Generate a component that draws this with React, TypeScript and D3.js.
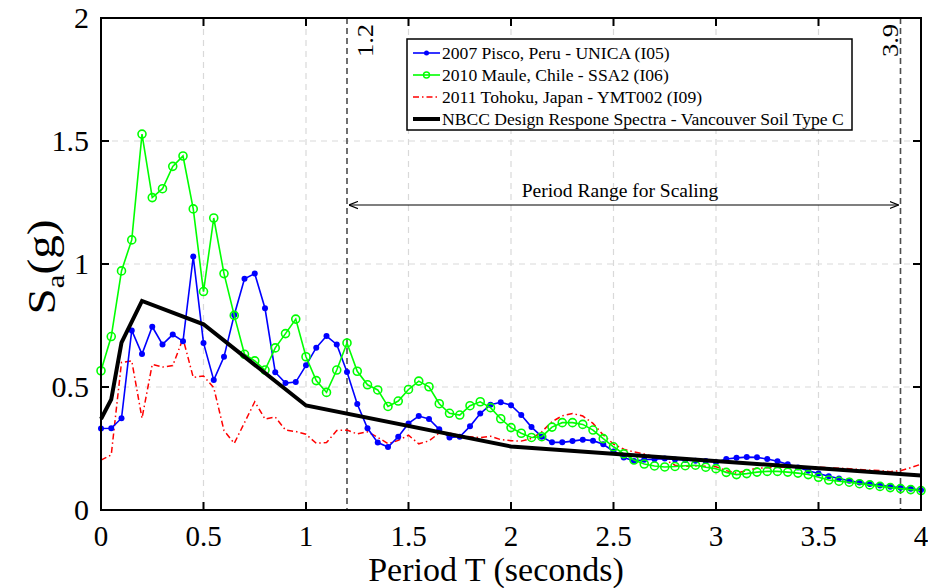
import React from "react";
import * as d3 from "d3";

// Periods (s), sampled every 0.05 s
const periods = [
  0, 0.05, 0.1, 0.15, 0.2, 0.25, 0.3, 0.35, 0.4, 0.45, 0.5, 0.55, 0.6, 0.65, 0.7, 0.75, 0.8, 0.85, 0.9, 0.95,
  1, 1.05, 1.1, 1.15, 1.2, 1.25, 1.3, 1.35, 1.4, 1.45, 1.5, 1.55, 1.6, 1.65, 1.7, 1.75, 1.8, 1.85, 1.9, 1.95,
  2, 2.05, 2.1, 2.15, 2.2, 2.25, 2.3, 2.35, 2.4, 2.45, 2.5, 2.55, 2.6, 2.65, 2.7, 2.75, 2.8, 2.85, 2.9, 2.95,
  3, 3.05, 3.1, 3.15, 3.2, 3.25, 3.3, 3.35, 3.4, 3.45, 3.5, 3.55, 3.6, 3.65, 3.7, 3.75, 3.8, 3.85, 3.9, 3.95,
  4,
];

// 2007 Pisco, Peru - UNICA (I05)
const piscoUNICA = [
  0.331, 0.332, 0.373, 0.73, 0.634, 0.745, 0.673, 0.713, 0.686, 1.03, 0.679, 0.528, 0.623, 0.793, 0.94, 0.961, 0.82, 0.56, 0.516, 0.52,
  0.588, 0.66, 0.707, 0.673, 0.561, 0.431, 0.332, 0.274, 0.256, 0.298, 0.352, 0.382, 0.37, 0.328, 0.295, 0.298, 0.34, 0.392, 0.428, 0.438,
  0.426, 0.386, 0.337, 0.298, 0.275, 0.275, 0.28, 0.286, 0.282, 0.267, 0.238, 0.213, 0.199, 0.204, 0.206, 0.209, 0.205, 0.203, 0.2, 0.199,
  0.194, 0.207, 0.212, 0.215, 0.214, 0.207, 0.198, 0.186, 0.173, 0.16, 0.148, 0.137, 0.128, 0.119, 0.112, 0.106, 0.1, 0.095, 0.09, 0.086,
  0.081,
];

// 2010 Maule, Chile - SSA2 (I06)
const mauleSSA2 = [
  0.566, 0.705, 0.972, 1.098, 1.528, 1.27, 1.306, 1.397, 1.439, 1.224, 0.888, 1.187, 0.961, 0.791, 0.633, 0.606, 0.569, 0.659, 0.717, 0.776,
  0.623, 0.526, 0.478, 0.569, 0.679, 0.564, 0.509, 0.488, 0.421, 0.443, 0.49, 0.524, 0.501, 0.432, 0.393, 0.386, 0.424, 0.44, 0.416, 0.371,
  0.335, 0.312, 0.295, 0.298, 0.337, 0.355, 0.355, 0.348, 0.325, 0.29, 0.257, 0.228, 0.203, 0.187, 0.179, 0.175, 0.177, 0.18, 0.182, 0.174,
  0.168, 0.153, 0.144, 0.148, 0.154, 0.157, 0.157, 0.154, 0.15, 0.144, 0.133, 0.122, 0.117, 0.113, 0.107, 0.102, 0.096, 0.091, 0.087, 0.083,
  0.079,
];

// 2011 Tohoku, Japan - YMT002 (I09)
const tohokuYMT002 = [
  0.203, 0.224, 0.6, 0.606, 0.373, 0.592, 0.581, 0.587, 0.697, 0.539, 0.545, 0.497, 0.323, 0.271, 0.355, 0.44, 0.37, 0.378, 0.325, 0.319,
  0.308, 0.271, 0.274, 0.323, 0.325, 0.309, 0.318, 0.295, 0.27, 0.283, 0.304, 0.269, 0.281, 0.313, 0.313, 0.302, 0.298, 0.294, 0.3, 0.286,
  0.282, 0.28, 0.291, 0.318, 0.359, 0.383, 0.392, 0.382, 0.352, 0.305, 0.268, 0.247, 0.236, 0.228, 0.217, 0.205, 0.182, 0.178, 0.179, 0.178,
  0.176, 0.16, 0.15, 0.16, 0.17, 0.172, 0.174, 0.174, 0.175, 0.175, 0.174, 0.172, 0.17, 0.168, 0.165, 0.162, 0.16, 0.156, 0.16, 0.172,
  0.186,
];

// NBCC design response spectrum - Vancouver soil type C
const nbccPeriods = [0, 0.05, 0.1, 0.2, 0.5, 1, 2, 4];
const nbccSa = [0.37, 0.45, 0.68, 0.85, 0.755, 0.425, 0.258, 0.14];

const xTicks = [0, 0.5, 1, 1.5, 2, 2.5, 3, 3.5, 4];
const yTicks = [0, 0.5, 1, 1.5, 2];
const xTickLabels = ["0", "0.5", "1", "1.5", "2", "2.5", "3", "3.5", "4"];
const yTickLabels = ["0", "0.5", "1", "1.5", "2"];
const scalingRange = [1.2, 3.9];
const scalingLabels = ["1.2", "3.9"];
const legendLabels = [
  "2007 Pisco, Peru - UNICA (I05)",
  "2010 Maule, Chile - SSA2 (I06)",
  "2011 Tohoku, Japan - YMT002 (I09)",
  "NBCC Design Respone Spectra - Vancouver Soil Type C",
];

const FONT = "'Liberation Serif', 'Times New Roman', serif";
const BLUE = "#0000ff";
const GREEN = "#00ff00";
const RED = "#ff0000";

export default function App() {
  const W = 928;
  const H = 588;
  const L = 101, R = 921, T = 18, B = 510;
  const x = d3.scaleLinear().domain([0, 4]).range([L, R]);
  const y = d3.scaleLinear().domain([0, 2]).range([B, T]);
  const line = d3
    .line<[number, number]>()
    .x((d) => x(d[0]))
    .y((d) => y(d[1]));

  const blue: [number, number][] = periods.map((p, i) => [p, piscoUNICA[i]]);
  const green: [number, number][] = periods.map((p, i) => [p, mauleSSA2[i]]);
  const red: [number, number][] = periods.map((p, i) => [p, tohokuYMT002[i]]);
  const black: [number, number][] = nbccPeriods.map((p, i) => [p, nbccSa[i]]);

  const tickLen = 8;
  const arrowY = 205;
  const legX = 407, legY = 39, legW = 445, legH = 91;
  const rowY = [53, 75, 97, 119];
  const labelOffsets = [26, -3];

  return (
    <svg
      width={W}
      height={H}
      style={{ position: "absolute", left: 0, top: 0, background: "#fff", fontFamily: FONT }}
    >
      <defs>
        <marker id="ah" viewBox="0 0 10 10" refX="10" refY="5" markerWidth="9" markerHeight="9" orient="auto-start-reverse" markerUnits="userSpaceOnUse">
          <path d="M0,1 L10,5 L0,9" fill="none" stroke="#000" strokeWidth="1.3" />
        </marker>
      </defs>
      <rect x={0} y={0} width={W} height={H} fill="#fff" />

      {/* grid */}
      {xTicks.slice(1, -1).map((t) => (
        <line key={"gx" + t} x1={x(t)} x2={x(t)} y1={T} y2={B} stroke="#d9d9d9" strokeWidth={1.2} strokeDasharray="6,5" />
      ))}
      {yTicks.slice(1, -1).map((t) => (
        <line key={"gy" + t} x1={L} x2={R} y1={y(t)} y2={y(t)} stroke="#d9d9d9" strokeWidth={1.2} strokeDasharray="6,5" />
      ))}

      {/* scaling range lines */}
      {scalingRange.map((t, i) => (
        <g key={"sr" + t}>
          <line x1={x(t)} x2={x(t)} y1={T} y2={B} stroke="#4d4d4d" strokeWidth={1.6} strokeDasharray="6,4" />
          <text
            transform={`translate(${x(t) + labelOffsets[i]},${57}) rotate(-90) scale(1.15,1)`}
            fontSize={23}
            fill="#000"
          >
            {scalingLabels[i]}
          </text>
        </g>
      ))}

      {/* arrow */}
      <line
        x1={x(scalingRange[0]) + 2}
        x2={x(scalingRange[1]) - 2}
        y1={arrowY}
        y2={arrowY}
        stroke="#000"
        strokeWidth={1.2}
        markerStart="url(#ah)"
        markerEnd="url(#ah)"
      />
      <text x={620} y={arrowY - 8} textAnchor="middle" fontSize={19.5} fill="#000">
        Period Range for Scaling
      </text>

      {/* series */}
      <path d={line(red) || ""} fill="none" stroke={RED} strokeWidth={1.5} strokeDasharray="6,3,1.5,3" />
      <path d={line(blue) || ""} fill="none" stroke={BLUE} strokeWidth={1.6} />
      {blue.map((d, i) => (
        <circle key={"b" + i} cx={x(d[0])} cy={y(d[1])} r={3} fill={BLUE} />
      ))}
      <path d={line(green) || ""} fill="none" stroke={GREEN} strokeWidth={1.6} />
      {green.map((d, i) => (
        <circle key={"g" + i} cx={x(d[0])} cy={y(d[1])} r={4} fill="none" stroke={GREEN} strokeWidth={1.6} />
      ))}
      <path d={line(black) || ""} fill="none" stroke="#000" strokeWidth={4} strokeLinejoin="miter" />

      {/* frame */}
      <rect x={L} y={T} width={R - L} height={B - T} fill="none" stroke="#000" strokeWidth={2} />
      {xTicks.map((t) => (
        <g key={"xt" + t}>
          <line x1={x(t)} x2={x(t)} y1={B} y2={B - tickLen} stroke="#000" strokeWidth={2} />
          <line x1={x(t)} x2={x(t)} y1={T} y2={T + tickLen} stroke="#000" strokeWidth={2} />
        </g>
      ))}
      {yTicks.map((t) => (
        <g key={"yt" + t}>
          <line x1={L} x2={L + tickLen} y1={y(t)} y2={y(t)} stroke="#000" strokeWidth={2} />
          <line x1={R} x2={R - tickLen} y1={y(t)} y2={y(t)} stroke="#000" strokeWidth={2} />
        </g>
      ))}

      {/* tick labels */}
      {xTicks.map((t, i) => (
        <text key={"xl" + t} x={x(t)} y={546} textAnchor="middle" fontSize={29} fill="#000">
          {xTickLabels[i]}
        </text>
      ))}
      {yTicks.map((t, i) => (
        <text key={"yl" + t} x={89} y={y(t) + 10} textAnchor="end" fontSize={30} fill="#000">
          {yTickLabels[i]}
        </text>
      ))}

      {/* axis titles */}
      <text x={496} y={581} textAnchor="middle" fontSize={34} fill="#000">
        Period T (seconds)
      </text>
      <text transform={`translate(55,${267}) rotate(-90) scale(1.18,1)`} textAnchor="middle" fontSize={40} fill="#000">
        S<tspan fontSize={26} dy={9}>a</tspan>
        <tspan dy={-9}>(g)</tspan>
      </text>

      {/* legend */}
      <rect x={legX} y={legY} width={legW} height={legH} fill="#fff" stroke="#000" strokeWidth={1.5} />
      <g>
        <line x1={413} x2={440} y1={rowY[0]} y2={rowY[0]} stroke={BLUE} strokeWidth={1.6} />
        <circle cx={426.5} cy={rowY[0]} r={2.5} fill={BLUE} />
        <line x1={413} x2={440} y1={rowY[1]} y2={rowY[1]} stroke={GREEN} strokeWidth={1.6} />
        <circle cx={426.5} cy={rowY[1]} r={3} fill="none" stroke={GREEN} strokeWidth={1.4} />
        <line x1={413} x2={440} y1={rowY[2]} y2={rowY[2]} stroke={RED} strokeWidth={1.5} strokeDasharray="6,3,1.5,3" />
        <line x1={413} x2={440} y1={rowY[3]} y2={rowY[3]} stroke="#000" strokeWidth={4} />
        {legendLabels.map((s, i) => (
          <text key={"lg" + i} x={442} y={rowY[i] + 6} fontSize={17.6} fill="#000">
            {s}
          </text>
        ))}
      </g>
    </svg>
  );
}
